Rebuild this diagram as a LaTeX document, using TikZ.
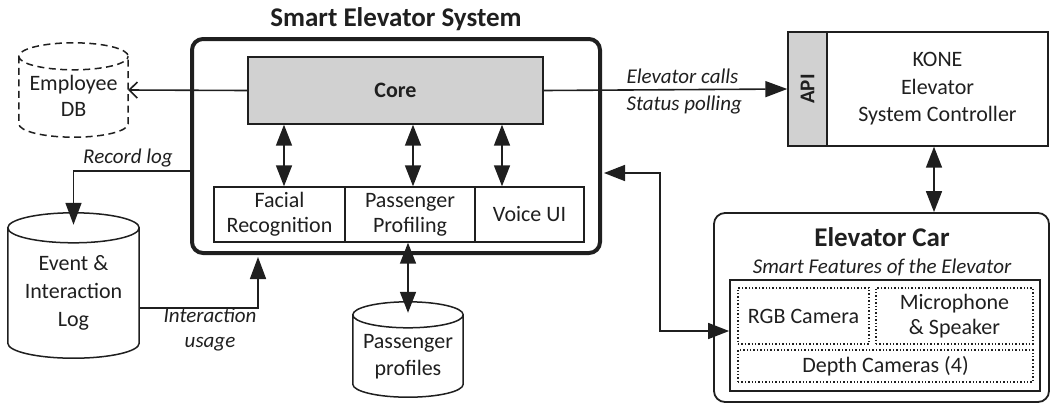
\documentclass[tikz,border=0pt]{standalone}
\usepackage{fontspec}
\setmainfont{Carlito}
\usetikzlibrary{arrows.meta,calc}

\definecolor{ink}{gray}{0.12}
\definecolor{panel}{gray}{0.82}

\tikzset{
  txt/.style={font=\fontsize{22}{26.5}\selectfont, align=center, text=ink},
  lbl/.style={font=\itshape\fontsize{21}{25}\selectfont, text=ink},
  heading/.style={font=\bfseries\fontsize{27}{32}\selectfont, text=ink},
  box/.style={draw=ink, line width=1.4pt, inner sep=0pt, txt},
  dotbox/.style={box, dotted, line width=1.2pt},
  holder/.style={inner sep=0pt, txt},
  conn/.style={draw=ink, line width=1.6pt},
  tip/.style={Triangle[length=22pt,width=16pt]},
  arr/.style={conn, -{Triangle[length=22pt,width=16pt]}},
  dbl/.style={conn, {Triangle[length=21pt,width=16pt]}-{Triangle[length=21pt,width=16pt]}},
  openarr/.style={conn, -{Straight Barb[length=8pt,width=16pt,line width=1.6pt]}},
}

% outline of a database cylinder around a named node: #1 node, #2 ellipse half-height, #3 options
\newcommand\dbcylinder[3]{%
  \draw[ink, line width=1.5pt, #3]
    let \p1=(#1.north west), \p2=(#1.south east) in
    (\x1,\y1-#2) -- (\x1,\y2+#2)
    arc[start angle=180, end angle=360, x radius={(\x2-\x1)/2}, y radius=#2]
    -- (\x2,\y1-#2)
    arc[start angle=0, end angle=360, x radius={(\x2-\x1)/2}, y radius=#2];
}

\begin{document}
\begin{tikzpicture}[x=1pt, y=-1pt]
\useasboundingbox (0,0) rectangle (1051,405);

% ---- Smart Elevator System ----
\node[heading] (title) at (396,19) {Smart Elevator System};
\node[draw=ink, line width=4pt, rounded corners=11pt, minimum width=408, minimum height=214, inner sep=0pt] (sys) at (396,146) {};

\node[box, fill=panel, minimum width=295, minimum height=67, font=\bfseries\fontsize{22}{26}\selectfont] (core) at (395.5,90.5) {Core};

\node[box, minimum width=131, minimum height=55, font=\fontsize{22}{25}\selectfont] (fac) at (279.5,214.5) {Facial\\Recognition};
\node[box, minimum width=130, minimum height=55, font=\fontsize{22}{25}\selectfont] (pas) at (410,214.5) {Passenger\\Profiling};
\node[box, minimum width=109, minimum height=55] (voice) at (529.5,214.5) {Voice UI};

\draw[dbl] ([xshift=4.5pt]fac.north |- core.south) -- ([xshift=4.5pt]fac.north);
\draw[dbl] ([xshift=3pt]pas.north |- core.south) -- ([xshift=3pt]pas.north);
\draw[dbl] ([xshift=-27.5pt]voice.north |- core.south) -- ([xshift=-27.5pt]voice.north);

% ---- Employee DB ----
\node[holder, minimum width=109, minimum height=94] (emp) at (73.5,90) {};
\node[txt] (emptext) at (73.5,96) {Employee\\DB};
\dbcylinder{emp}{13.5pt}{dash pattern=on 7pt off 4.5pt}
\draw[openarr] (core.west) -- (emp.east);

% ---- Event & Interaction Log ----
\node[holder, minimum width=131, minimum height=145] (evlog) at (73.5,285.5) {};
\node[txt, font=\fontsize{22}{28}\selectfont] (evtext) at (73.5,293) {Event \&\\Interaction\\Log};
\dbcylinder{evlog}{15pt}{}

\draw[arr] ([yshift=-25pt]sys.west) -| ([yshift=-12pt]evlog.north);
\node[lbl] (reclbl) at (128,158) {Record log};

\draw[arr] ([yshift=-22.5pt]evlog.east) -| ([xshift=-138pt,yshift=-2pt]sys.south);
\node[lbl, align=center] (uselbl) at (210,330) {Interaction\\usage};

% ---- Passenger profiles ----
\node[holder, minimum width=110, minimum height=95] (pp) at (408,349.5) {};
\node[txt, font=\fontsize{22}{27}\selectfont] (pptext) at (408,357) {Passenger\\profiles};
\dbcylinder{pp}{13pt}{}
\draw[dbl] (pp.north |- pas.south) -- ([yshift=-11pt]pp.north);

% ---- KONE controller ----
\node[box, fill=panel, minimum width=39, minimum height=114] (api) at (807.5,89) {};
\node[rotate=90, font=\bfseries\fontsize{21}{25}\selectfont, text=ink] (apitext) at (api) {API};
\node[box, minimum width=221, minimum height=114, font=\fontsize{22}{27.5}\selectfont] (kone) at (937.5,89) {KONE\\Elevator\\System Controller};

\draw[arr] (core.east) -- (api.west);
\node[lbl, anchor=west] (calls) at (623,76) {Elevator calls};
\node[lbl, anchor=west] (polling) at (623,105) {Status polling};

% ---- Elevator Car ----
\node[draw=ink, line width=1.8pt, rounded corners=11pt, minimum width=335, minimum height=189, inner sep=0pt] (car) at (881.5,307.5) {};
\node[heading] (cartitle) at (882,237) {Elevator Car};
\node[lbl] (carsub) at (882,267) {Smart Features of the Elevator};

\node[draw=ink, line width=1.8pt, minimum width=310, minimum height=111, inner sep=0pt] (feat) at (885,335.5) {};
\node[dotbox, minimum width=131, minimum height=56] (rgb) at (803.5,316) {RGB Camera};
\node[dotbox, minimum width=157, minimum height=56, font=\fontsize{22}{25}\selectfont] (mic) at (954.5,316) {Microphone\\\& Speaker};
\node[dotbox, minimum width=295, minimum height=32] (depth) at (885.5,366) {Depth Cameras (4)};

\draw[dbl] ([xshift=-3.5pt]kone.south) -- ([xshift=-3.5pt]kone.south |- car.north);
\draw[dbl] ([yshift=-27pt,xshift=2pt]sys.east) -| ([xshift=-69pt,yshift=4.5pt]feat.west) -- ([yshift=4.5pt]feat.west);

\end{tikzpicture}
\end{document}
